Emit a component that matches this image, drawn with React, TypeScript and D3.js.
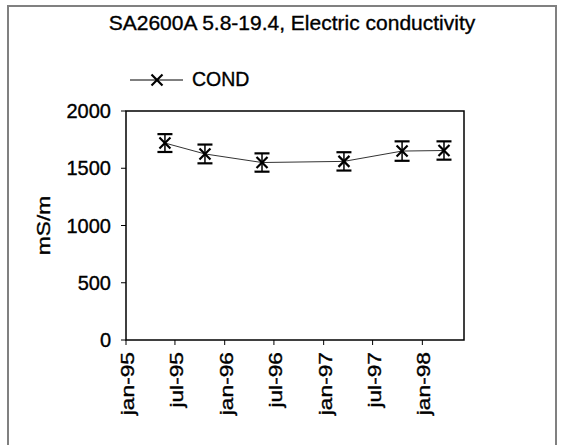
import * as d3 from "d3";

// sampling dates and measured conductivity (mS/m) with error bar half-widths
const sampleDates = ["1995-05-25", "1995-10-20", "1996-05-18", "1997-03-17", "1997-10-18", "1998-03-22"];
const condValues = [1720, 1625, 1550, 1560, 1650, 1655];
const condErrors = [78, 82, 80, 80, 85, 80];

const yTicks = [0, 500, 1000, 1500, 2000];
const xTickDates = ["1995-01-01", "1995-07-01", "1996-01-01", "1996-07-01", "1997-01-01", "1997-07-01", "1998-01-01"];
const xTickLabels = ["jan-95", "jul-95", "jan-96", "jul-96", "jan-97", "jul-97", "jan-98"];

const W = 561;
const H = 445;
const FONT = "'Liberation Sans', Arial, Helvetica, sans-serif";
const plot = { left: 126, right: 464, top: 111, bottom: 340 };

const parse = d3.timeParse("%Y-%m-%d");

// scanned text looks a bit heavier than plain regular weight
const ink = { fill: "#000", stroke: "#000", strokeWidth: 0.35 };

function XMark({ cx, cy, r }: { cx: number; cy: number; r: number }) {
  return (
    <g stroke="#000" strokeWidth={2.2}>
      <line x1={cx - r} y1={cy - r} x2={cx + r} y2={cy + r} />
      <line x1={cx - r} y1={cy + r} x2={cx + r} y2={cy - r} />
    </g>
  );
}

export default function App() {
  const x = d3
    .scaleTime()
    .domain([parse("1995-01-01")!, parse("1998-06-04")!])
    .range([plot.left, plot.right]);
  const y = d3.scaleLinear().domain([0, 2000]).range([plot.bottom, plot.top]);

  const pts = sampleDates.map((d, i) => ({ date: parse(d)!, v: condValues[i], e: condErrors[i] }));
  const line = d3
    .line<{ date: Date; v: number }>()
    .x((d) => x(d.date))
    .y((d) => y(d.v));

  return (
    <svg
      width={W}
      height={H}
      style={{ position: "absolute", left: 0, top: 0, background: "#fff" }}
      fontFamily={FONT}
    >
      {/* chart frame */}
      <rect x={8} y={6} width={548} height={450} fill="#fff" stroke="#808080" strokeWidth={2} />

      <text x={292} y={30} textAnchor="middle" fontSize={21} {...ink}>
        SA2600A 5.8-19.4, Electric conductivity
      </text>

      {/* legend */}
      <g>
        <line x1={130} x2={183} y1={80} y2={80} stroke="#000" strokeWidth={1} />
        <XMark cx={157} cy={80} r={5.5} />
        <text x={192} y={86} fontSize={19.5} {...ink}>COND</text>
      </g>

      {/* plot area */}
      <rect
        x={plot.left}
        y={plot.top}
        width={plot.right - plot.left}
        height={plot.bottom - plot.top}
        fill="#fff"
        stroke="#000"
        strokeWidth={1.5}
      />

      {/* y axis */}
      {yTicks.map((t) => (
        <g key={t}>
          <line x1={plot.left - 5} x2={plot.left} y1={y(t)} y2={y(t)} stroke="#000" strokeWidth={1} />
          <text x={111} y={y(t)} dy="0.36em" textAnchor="end" fontSize={20} {...ink}>
            {t}
          </text>
        </g>
      ))}
      <text
        transform={`translate(50, ${(plot.top + plot.bottom) / 2}) rotate(-90) scale(1.3, 1)`}
        textAnchor="middle"
        fontSize={17.5}
        {...ink}
      >
        mS/m
      </text>

      {/* x axis */}
      {xTickDates.map((d, i) => {
        const px = x(parse(d)!);
        return (
          <g key={d}>
            <line x1={px} x2={px} y1={plot.bottom} y2={plot.bottom + 5} stroke="#000" strokeWidth={1} />
            <text
              transform={`translate(${px + 8}, 352) rotate(-90) scale(1.3, 1)`}
              textAnchor="end"
              fontSize={17.5}
              {...ink}
            >
              {xTickLabels[i]}
            </text>
          </g>
        );
      })}

      {/* series */}
      <path d={line(pts) ?? ""} fill="none" stroke="#333" strokeWidth={1} />
      {pts.map((p, i) => {
        const cx = x(p.date);
        const top = y(p.v + p.e);
        const bot = y(p.v - p.e);
        return (
          <g key={i} stroke="#000">
            <line x1={cx} x2={cx} y1={top} y2={bot} strokeWidth={1.5} />
            <line x1={cx - 7.5} x2={cx + 7.5} y1={top} y2={top} strokeWidth={2.2} />
            <line x1={cx - 7.5} x2={cx + 7.5} y1={bot} y2={bot} strokeWidth={2.2} />
            <XMark cx={cx} cy={y(p.v)} r={5.5} />
          </g>
        );
      })}
    </svg>
  );
}
